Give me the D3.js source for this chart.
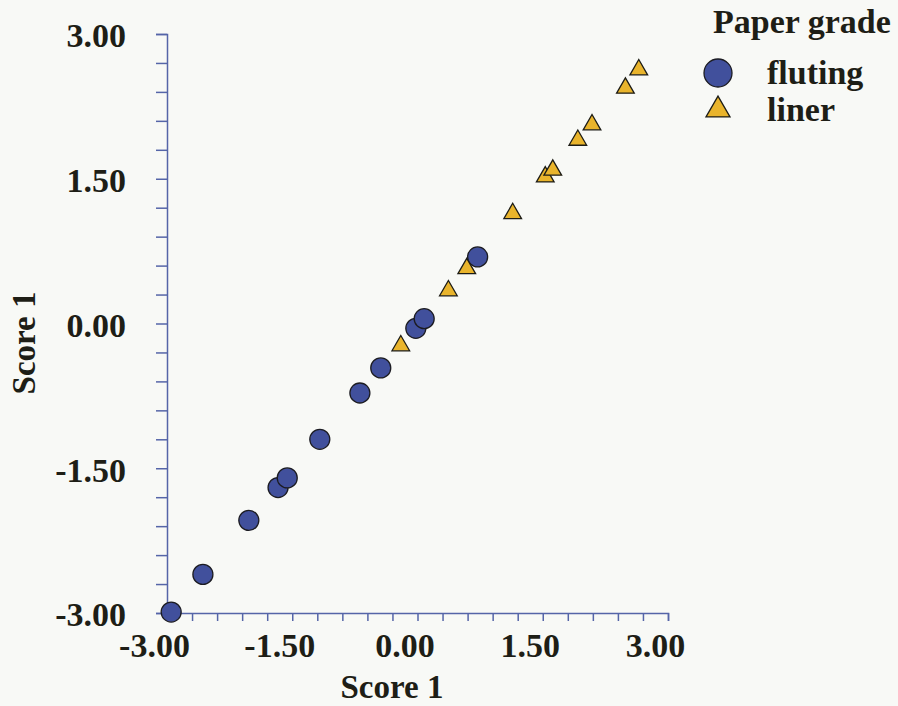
<!DOCTYPE html>
<html>
<head>
<meta charset="utf-8">
<script src="https://cdn.jsdelivr.net/npm/d3@7"></script>
<style>
  html, body { margin: 0; padding: 0; background: #f8f9f6; }
  svg text { font-family: "Liberation Serif", "Times New Roman", serif; font-weight: bold; fill: #1e1e16; }
</style>
</head>
<body>
<div id="chart"></div>
<script>
// fluting samples (score 1 on x, score 1 on y)
let flutingX = [-2.95, -2.57, -2.02, -1.67, -1.56, -1.17, -0.69, -0.44, -0.02, 0.08, 0.72];
let flutingY = [-2.99, -2.60, -2.04, -1.70, -1.60, -1.20, -0.72, -0.46, -0.05, 0.05, 0.69];

// liner samples
let linerX = [-0.20, 0.37, 0.59, 1.14, 1.53, 1.62, 1.92, 2.09, 2.49, 2.65];
let linerY = [-0.23, 0.34, 0.57, 1.14, 1.52, 1.59, 1.90, 2.06, 2.44, 2.63];

let tickLabels = [-3.00, -1.50, 0.00, 1.50, 3.00];
let minorTicks = d3.range(0, 21).map(i => Math.round((-3 + i * 0.3) * 10) / 10);

let legendTitle = "Paper grade";
let legendNames = ["fluting", "liner"];

//Width and height
let w = 898;
let h = 706;

let axisColor = "#5565a8";
let blue = "#41509c";
let gold = "#e9b42c";

let svg = d3.select("#chart")
    .append("svg")
    .attr("width", w)
    .attr("height", h)
    .attr("style", "background-color: #f8f9f6");

let x = d3.scaleLinear().domain([-3, 3]).range([167, 668]);
let y = d3.scaleLinear().domain([-3, 3]).range([613, 34]);

let fmt = d => tickLabels.some(t => Math.abs(t - d) < 1e-6) ? d.toFixed(2).replace("-0.00", "0.00") : "";

// Axes
let xAxis = svg.append("g")
    .attr("transform", "translate(0," + y(-3) + ")")
    .call(d3.axisBottom(x).tickValues(minorTicks).tickSize(8).tickPadding(12).tickFormat(fmt));

let yAxis = svg.append("g")
    .attr("transform", "translate(" + x(-3) + ",0)")
    .call(d3.axisLeft(y).tickValues(minorTicks).tickSize(11).tickPadding(30).tickFormat(fmt));

for (let ax of [xAxis, yAxis]) {
    ax.select(".domain").attr("stroke", axisColor).attr("stroke-width", 1.5);
    ax.selectAll(".tick line").attr("stroke", axisColor).attr("stroke-width", 1.5);
    ax.selectAll(".tick text")
        .attr("font-size", 34)
        .attr("font-family", null)
        .attr("fill", "#1e1e16");
}
xAxis.selectAll(".tick text").attr("dx", -13);
yAxis.selectAll(".tick text").attr("dy", "0.38em");
xAxis.attr("font-family", null).attr("font-size", null);
yAxis.attr("font-family", null).attr("font-size", null);

// Axis titles
svg.append("text")
    .attr("x", 392)
    .attr("y", 698)
    .attr("text-anchor", "middle")
    .attr("font-size", 33)
    .text("Score 1");

svg.append("text")
    .attr("transform", "translate(35, 343) rotate(-90)")
    .attr("text-anchor", "middle")
    .attr("font-size", 33)
    .text("Score 1");

// Points
let fluting = flutingX.map((v, i) => ({x: v, y: flutingY[i]}));
let liner = linerX.map((v, i) => ({x: v, y: linerY[i]}));

svg.append("g")
    .selectAll("circle")
    .data(fluting)
    .join("circle")
    .attr("cx", d => x(d.x))
    .attr("cy", d => y(d.y))
    .attr("r", 10)
    .attr("fill", blue)
    .attr("stroke", "#1c1c22")
    .attr("stroke-width", 1.3);

let tri = d3.symbol().type(d3.symbolTriangle).size(135);
svg.append("g")
    .selectAll("path")
    .data(liner)
    .join("path")
    .attr("transform", d => "translate(" + x(d.x) + "," + y(d.y) + ")")
    .attr("d", tri)
    .attr("fill", gold)
    .attr("stroke", "#1c1c16")
    .attr("stroke-width", 1.3);

// Legend
let legend = svg.append("g");

legend.append("text")
    .attr("x", 713)
    .attr("y", 33)
    .attr("font-size", 34)
    .text(legendTitle);

legend.append("circle")
    .attr("cx", 718)
    .attr("cy", 73)
    .attr("r", 14)
    .attr("fill", blue)
    .attr("stroke", "#1c1c22")
    .attr("stroke-width", 1.3);

legend.append("path")
    .attr("transform", "translate(718,110)")
    .attr("d", d3.symbol().type(d3.symbolTriangle).size(250))
    .attr("fill", gold)
    .attr("stroke", "#1c1c16")
    .attr("stroke-width", 1.3);

legend.selectAll("text.item")
    .data(legendNames)
    .join("text")
    .attr("class", "item")
    .attr("x", 767)
    .attr("y", (d, i) => 84 + i * 37)
    .attr("font-size", 34)
    .text(d => d);
</script>
</body>
</html>
